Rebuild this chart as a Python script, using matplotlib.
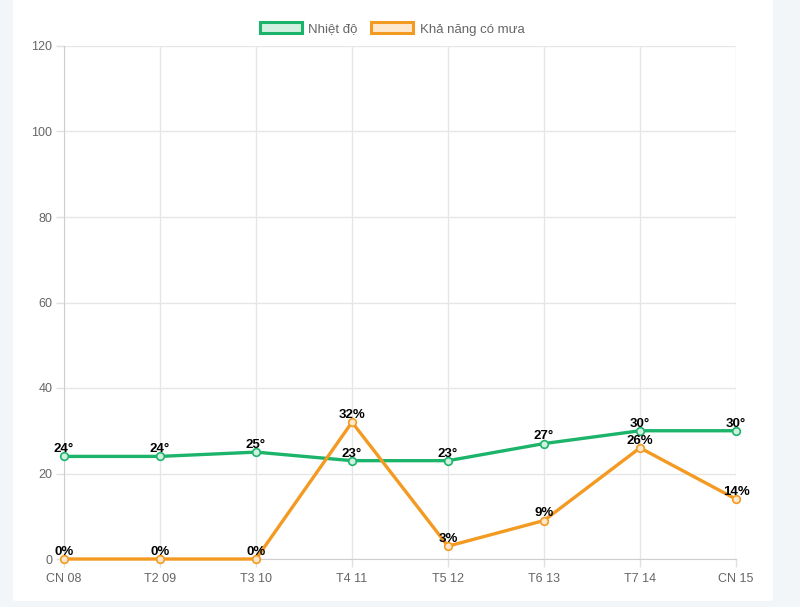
import matplotlib
matplotlib.use("Agg")
import matplotlib.pyplot as plt
from matplotlib.patches import Patch, FancyBboxPatch

categories = ["CN 08", "T2 09", "T3 10", "T4 11", "T5 12", "T6 13", "T7 14", "CN 15"]
temperature = [24, 24, 25, 23, 23, 27, 30, 30]
rain_chance = [0, 0, 0, 32, 3, 9, 26, 14]
y_ticks = [0, 20, 40, 60, 80, 100, 120]

green = "#1cb46a"
green_fill = "#d2f0e1"
orange = "#f39a22"
orange_fill = "#fde8cd"

plt.rcParams['font.family'] = ['Liberation Sans', 'DejaVu Sans']

fig = plt.figure(figsize=(8, 6.07), dpi=100)
fig.patch.set_facecolor("#f3f6f8")
card = FancyBboxPatch((13/800, 1 - 601/607), (773-13)/800, 601/607 + 0.02,
                      boxstyle="round,pad=0,rounding_size=0.005",
                      transform=fig.transFigure, facecolor="white", edgecolor="none", zorder=-10)
fig.patches.append(card)

ax = fig.add_axes([64/800, 1 - 559/607, (736-64)/800, (559-46)/607])
ax.set_zorder(5)
ax.set_facecolor("white")
x = list(range(len(categories)))

ax.plot(x, temperature, color=green, lw=2.4, marker="o", ms=5.5, mfc=green_fill, mec=green, mew=1.2, zorder=3, clip_on=False)
ax.plot(x, rain_chance, color=orange, lw=2.4, marker="o", ms=5.5, mfc=orange_fill, mec=orange, mew=1.2, zorder=3, clip_on=False)

for xi, v in zip(x, temperature):
    ax.annotate(f"{v}°", (xi, v), xytext=(0, 3), textcoords="offset points", ha="center", va="baseline",
                fontsize=9.5, fontweight="bold", color="black", zorder=5)
for xi, v in zip(x, rain_chance):
    ax.annotate(f"{v}%", (xi, v), xytext=(0, 3), textcoords="offset points", ha="center", va="baseline",
                fontsize=9.5, fontweight="bold", color="black", zorder=5)

ax.set_xlim(0, len(categories) - 1)
ax.set_ylim(0, 120)
ax.set_xticks(x)
ax.set_xticklabels(categories)
ax.set_yticks(y_ticks)
ax.grid(True, color="#e6e6e6", lw=1)
ax.set_axisbelow(True)
for s in ["top", "right"]:
    ax.spines[s].set_visible(False)
ax.spines["left"].set_color("#cfcfcf")
ax.spines["bottom"].set_color("#cfcfcf")
ax.tick_params(axis="both", colors="#e0e0e0", labelcolor="#666666", labelsize=9, length=6, width=1)
ax.tick_params(axis="x", pad=4)
ax.tick_params(axis="y", pad=2.5)

handles = [Patch(facecolor=green_fill, edgecolor=green, linewidth=2.2, label="Nhiệt độ"),
           Patch(facecolor=orange_fill, edgecolor=orange, linewidth=2.2, label="Khả năng có mưa")]
fig.legend(handles=handles, loc="center", bbox_to_anchor=(392/800, 1 - 29/607), ncol=2, frameon=False,
           fontsize=9.5, handlelength=3.2, handleheight=0.9, handletextpad=0.5, columnspacing=1.0,
           labelcolor="#666666")

fig.savefig("out.png", dpi=100)
